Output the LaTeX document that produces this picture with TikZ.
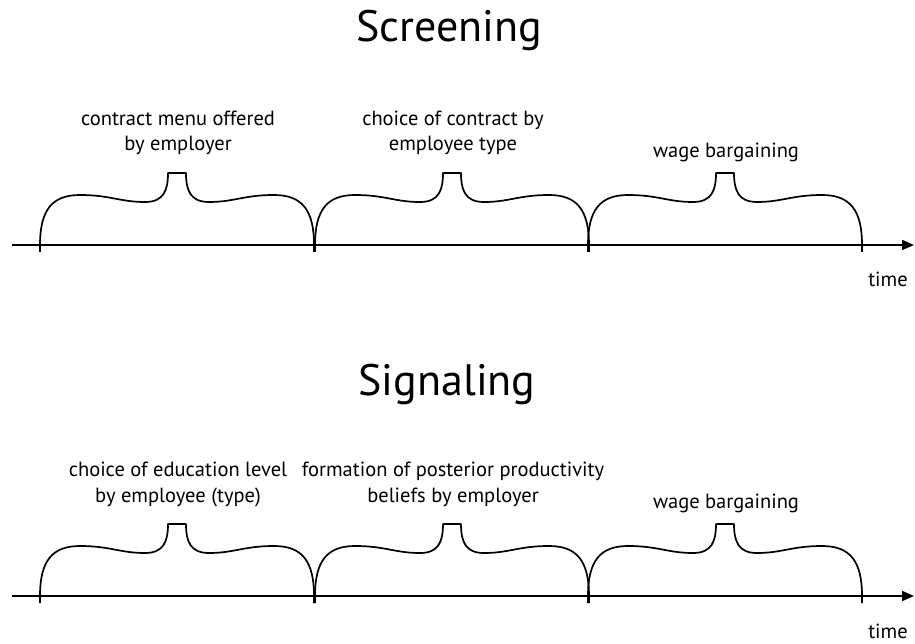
\documentclass[tikz,border=0pt]{standalone}
\usepackage{fontspec}
\setmainfont{PT Sans}
\usetikzlibrary{arrows.meta}
\begin{document}
\begin{tikzpicture}[%
	x=1pt, y=-1pt,
	line width=1.7pt, line join=round,
	title/.style = {font=\fontsize{44}{50}\selectfont, anchor=base, inner sep=0pt},
	label/.style = {font=\fontsize{20.5}{25.5}\selectfont, align=center, anchor=base, inner sep=0pt},
	axis/.style = {-{Triangle[length=12pt,width=10pt]}},
	stagebrace/.pic = {
		\draw (0,7) -- (0,0) .. controls (0,-35) and (12,-50) .. (40,-50)
			.. controls (70,-50) and (80,-43) .. (105,-43)
			.. controls (124,-43) and (128,-55) .. (128,-72)
			-- (146,-72)
			.. controls (146,-55) and (150,-43) .. (169,-43)
			.. controls (194,-43) and (204,-50) .. (234,-50)
			.. controls (262,-50) and (274,-35) .. (274,0) -- (274,7);}
	]
  \useasboundingbox (0,0) rectangle (915,644);
  % screening
  \node [title] (scr) at (449,42) {Screening};
  \coordinate (sa) at (12,245);
  \coordinate (sb) at (914,245);
  \draw [axis] (sa) -- (sb);
  \pic at (40,245) {stagebrace};
  \pic at (315,245) {stagebrace};
  \pic at (588,245) {stagebrace};
  \node [label] (s1) at (178,151) {contract menu offered\\by employer};
  \node [label] (s2) at (453,151) {choice of contract by\\employee type};
  \node [label] (s3) at (726,158) {wage bargaining};
  \node [label] (st) at (888,287) {time};
  % signaling
  \node [title] (sig) at (447,395) {Signaling};
  \coordinate (ga) at (12,596);
  \coordinate (gb) at (914,596);
  \draw [axis] (ga) -- (gb);
  \pic at (40,596) {stagebrace};
  \pic at (315,596) {stagebrace};
  \pic at (588,596) {stagebrace};
  \node [label] (g1) at (178,502) {choice of education level\\by employee (type)};
  \node [label] (g2) at (453,502) {formation of posterior productivity\\beliefs by employer};
  \node [label] (g3) at (726,508) {wage bargaining};
  \node [label] (gt) at (888,638) {time};
\end{tikzpicture}
\end{document}
